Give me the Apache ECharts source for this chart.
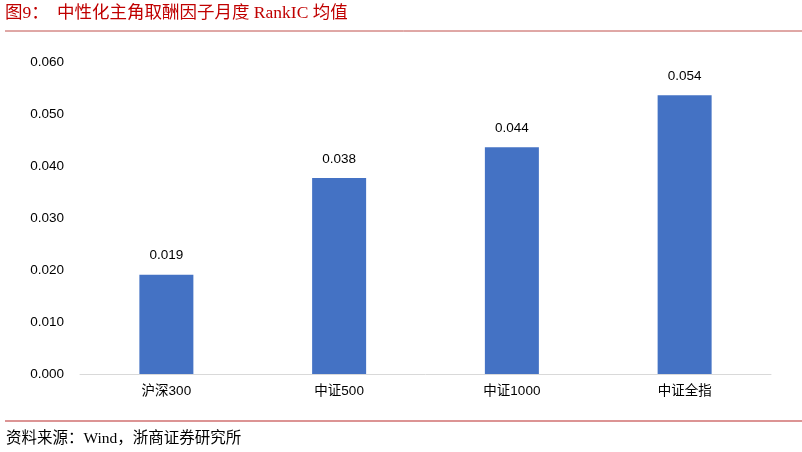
<!DOCTYPE html>
<html><head><meta charset="utf-8">
<script src="https://cdn.jsdelivr.net/npm/echarts@6/dist/echarts.min.js"></script>
<style>html,body{margin:0;padding:0;background:#fff}#c{width:802px;height:452px}</style>
</head><body><div id="c"></div>
<script>
var categories = ['沪深300', '中证500', '中证1000', '中证全指'];
var rankIC = [0.0191, 0.0377, 0.0436, 0.0536];
var yTicks = {min: 0, max: 0.06, interval: 0.01};
var titlePrefix = '图9：';
var titleText = '中性化主角取酬因子月度 RankIC 均值';
var sourceText = '资料来源：Wind，浙商证券研究所';

var chart = echarts.init(document.getElementById('c'));
chart.setOption({
  animation: false,
  backgroundColor: '#fff',
  grid: {left: 80, right: 31, top: 62, bottom: 78, containLabel: false},
  xAxis: {
    type: 'category', data: categories,
    axisLine: {lineStyle: {color: '#d9d9d9', width: 1}},
    axisTick: {show: false},
    axisLabel: {color: '#000', fontSize: 13.5, margin: 11, fontFamily: 'Liberation Sans, "Noto Sans CJK SC", sans-serif'}
  },
  yAxis: {
    type: 'value', min: yTicks.min, max: yTicks.max, interval: yTicks.interval,
    splitLine: {show: false},
    axisLine: {show: false}, axisTick: {show: false},
    axisLabel: {color: '#000', fontSize: 13.5, margin: 16, fontFamily: 'Liberation Sans, sans-serif',
      formatter: function (v) { return v.toFixed(3); }}
  },
  series: [{
    type: 'bar', data: rankIC, barWidth: 54,
    itemStyle: {color: '#4472C4'},
    label: {show: true, position: 'top', distance: 12, color: '#000', fontSize: 13.5,
      fontFamily: 'Liberation Sans, sans-serif',
      formatter: function (p) { return p.value.toFixed(3); }}
  }],
  graphic: [
    {type: 'text', left: 5, top: 5, style: {text: titlePrefix, fill: '#C00000', fontSize: 17.5,
      fontFamily: '"Liberation Serif", "Noto Sans CJK SC", serif'}},
    {type: 'text', left: 57, top: 5, style: {text: titleText, fill: '#C00000', fontSize: 17.5,
      fontFamily: '"Liberation Serif", "Noto Sans CJK SC", serif'}},
    {type: 'line', shape: {x1: 5, y1: 31, x2: 802, y2: 31}, style: {stroke: '#C0504D', lineWidth: 1}},
    {type: 'line', shape: {x1: 5, y1: 421, x2: 802, y2: 421}, style: {stroke: '#D07070', lineWidth: 1.5}},
    {type: 'text', left: 6, top: 431, style: {text: sourceText, fill: '#000', fontSize: 15.5,
      fontFamily: '"Liberation Serif", "Noto Sans CJK SC", serif'}}
  ]
});
</script></body></html>
